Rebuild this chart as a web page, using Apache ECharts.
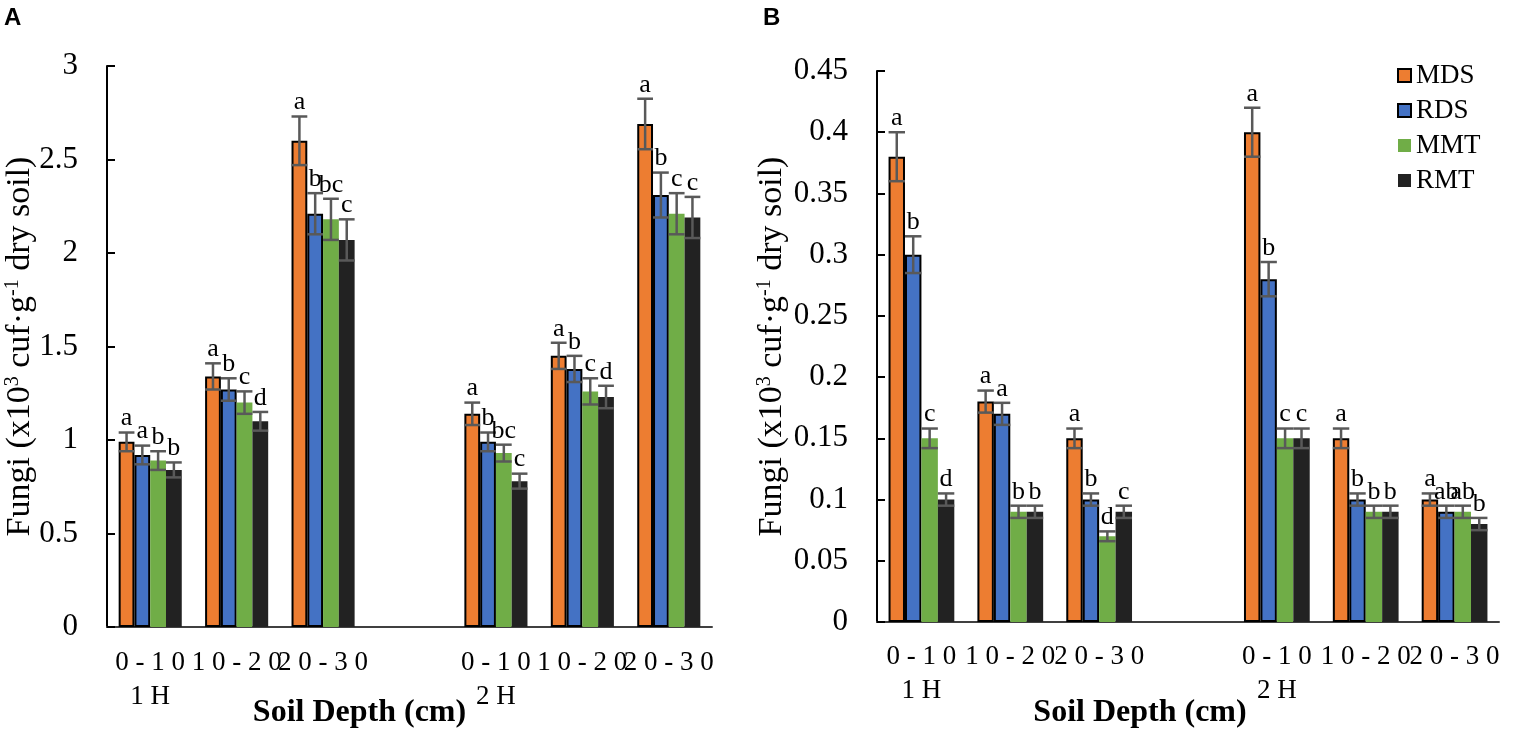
<!DOCTYPE html>
<html>
<head>
<meta charset="utf-8">
<script src="https://cdn.jsdelivr.net/npm/echarts/dist/echarts.min.js"></script>
<style>html,body{margin:0;padding:0;background:#fff}#chart{width:1525px;height:747px}</style>
</head>
<body>
<div id="chart"></div>
<script>
// soil depth categories (4th slot is the gap between harvests)
var categories = ['0-10', '10-20', '20-30', '', '0-10', '10-20', '20-30'];
var harvestLabels = ['1H', '', '', '', '2H', '', ''];
var seriesNames = ['MDS', 'RDS', 'MMT', 'RMT'];
var barColors = ['#ED7D31', '#4472C4', '#70AD47', '#222222'];

// panel A
var aMDS = [0.99, 1.34, 2.60, null, 1.14, 1.45, 2.69];
var aRDS = [0.92, 1.27, 2.21, null, 0.99, 1.38, 2.31];
var aMMT = [0.89, 1.20, 2.18, null, 0.93, 1.26, 2.21];
var aRMT = [0.84, 1.10, 2.07, null, 0.78, 1.23, 2.19];
var aErrMDS = [0.05, 0.07, 0.13, null, 0.06, 0.07, 0.135];
var aErrRDS = [0.05, 0.06, 0.11, null, 0.05, 0.07, 0.12];
var aErrMMT = [0.05, 0.06, 0.11, null, 0.045, 0.07, 0.11];
var aErrRMT = [0.04, 0.05, 0.11, null, 0.04, 0.06, 0.11];
var aLetMDS = ['a', 'a', 'a', '', 'a', 'a', 'a'];
var aLetRDS = ['a', 'b', 'b', '', 'b', 'b', 'b'];
var aLetMMT = ['b', 'c', 'bc', '', 'bc', 'c', 'c'];
var aLetRMT = ['b', 'd', 'c', '', 'c', 'd', 'c'];

// panel B
var bMDS = [0.38, 0.18, 0.15, null, 0.40, 0.15, 0.10];
var bRDS = [0.30, 0.17, 0.10, null, 0.28, 0.10, 0.09];
var bMMT = [0.15, 0.09, 0.07, null, 0.15, 0.09, 0.09];
var bRMT = [0.10, 0.09, 0.09, null, 0.15, 0.09, 0.08];
var bErrMDS = [0.02, 0.009, 0.008, null, 0.02, 0.008, 0.005];
var bErrRDS = [0.015, 0.009, 0.005, null, 0.014, 0.005, 0.005];
var bErrMMT = [0.008, 0.005, 0.004, null, 0.008, 0.005, 0.005];
var bErrRMT = [0.005, 0.005, 0.005, null, 0.008, 0.005, 0.005];
var bLetMDS = ['a', 'a', 'a', '', 'a', 'a', 'a'];
var bLetRDS = ['b', 'a', 'b', '', 'b', 'b', 'ab'];
var bLetMMT = ['c', 'b', 'd', '', 'c', 'b', 'ab'];
var bLetRMT = ['d', 'b', 'c', '', 'c', 'b', 'b'];

var serif = 'Liberation Serif';

function spaced(s) {
    return s.split('').join(' ');
}

function errorRenderer(gapRatio, letters) {
    return function (params, api) {
        var cat = api.value(0), s = api.value(1), v = api.value(2), e = api.value(3);
        var band = api.size([1, 0])[0];
        var barW = band * (1 - gapRatio) / 4;
        var x = api.coord([cat, 0])[0] + (s - 1.5) * barW;
        var top = api.coord([cat, v + e])[1];
        var bot = api.coord([cat, v - e])[1];
        var half = barW / 2;
        var st = {stroke: '#595959', lineWidth: 2.5};
        return {
            type: 'group',
            children: [
                {type: 'line', shape: {x1: x, y1: top, x2: x, y2: bot}, style: st},
                {type: 'line', shape: {x1: x - half, y1: top, x2: x + half, y2: top}, style: st},
                {type: 'line', shape: {x1: x - half, y1: bot, x2: x + half, y2: bot}, style: st},
                {type: 'text', x: x, y: top - 1, style: {
                    text: letters[params.dataIndex], fill: '#000',
                    font: '26px "' + serif + '"', textAlign: 'center', textVerticalAlign: 'bottom'
                }}
            ]
        };
    };
}

function buildPanel(idx, gap, values, errs, lets) {
    var out = [];
    var errData = [], letList = [];
    for (var s = 0; s < 4; s++) {
        out.push({
            name: seriesNames[s],
            type: 'bar',
            xAxisIndex: idx,
            yAxisIndex: idx,
            barGap: '0%',
            barCategoryGap: (gap * 100) + '%',
            data: values[s],
            itemStyle: s < 2
                ? {color: barColors[s], borderColor: '#000', borderWidth: 2}
                : {color: barColors[s], borderWidth: 0},
            emphasis: {disabled: true}
        });
        for (var c = 0; c < categories.length; c++) {
            if (values[s][c] == null) continue;
            errData.push([c, s, values[s][c], errs[s][c]]);
            letList.push(lets[s][c]);
        }
    }
    out.push({
        type: 'custom',
        xAxisIndex: idx,
        yAxisIndex: idx,
        z: 5,
        silent: true,
        encode: {x: 0, y: 2},
        renderItem: errorRenderer(gap, letList),
        data: errData
    });
    return out;
}

function xAxisFor(idx, shift, labelMargin, gapName) {
    return {
        type: 'category',
        gridIndex: idx,
        data: categories,
        axisLine: {lineStyle: {color: '#404040', width: 2}},
        axisTick: {inside: true, length: 8, lineStyle: {color: '#808080', width: 1.5}},
        axisLabel: {
            interval: 0, margin: labelMargin, color: '#000', fontFamily: serif, fontSize: 27, lineHeight: 34,
            formatter: function (v, i) {
                return spaced(v) + (harvestLabels[i] ? '\n' + spaced(harvestLabels[i]) : '');
            }
        },
        name: 'Soil Depth (cm)',
        nameLocation: 'middle',
        nameGap: gapName,
        nameMoveOverlap: false,
        nameTextStyle: {
            color: '#000', fontFamily: serif, fontWeight: 'bold', fontSize: 32,
            padding: [0, shift, 0, 0]
        }
    };
}

function yAxisFor(idx, max, step, gapName) {
    return {
        type: 'value',
        gridIndex: idx,
        min: 0, max: max, interval: step,
        splitLine: {show: false},
        axisLine: {show: true, lineStyle: {color: '#000', width: 2}},
        axisTick: {show: true, inside: true, length: 8, lineStyle: {color: '#000', width: 2}},
        axisLabel: {color: '#000', fontFamily: serif, fontSize: 31, margin: 29},
        name: 'Fungi (x10{sup|3} cuf·g{sup|-1} dry soil)',
        nameLocation: 'middle',
        nameGap: gapName,
        nameMoveOverlap: false,
        nameTextStyle: {
            color: '#000', fontFamily: serif, fontSize: 34, lineHeight: 34,
            rich: {sup: {fontFamily: serif, fontSize: 20, lineHeight: 20, verticalAlign: 'top', color: '#000'}}
        }
    };
}

var chart = echarts.init(document.getElementById('chart'));
var option = {
    animation: false,
    backgroundColor: '#fff',
    grid: [
        {left: 107, right: 813, top: 66, bottom: 120, outerBoundsMode: 'none', containLabel: false},
        {left: 877, right: 26, top: 71, bottom: 125, outerBoundsMode: 'none', containLabel: false}
    ],
    xAxis: [xAxisFor(0, 100, 19, 70), xAxisFor(1, 96, 18, 75)],
    yAxis: [yAxisFor(0, 3, 0.5, 70), yAxisFor(1, 0.45, 0.05, 88)],
    legend: {
        data: seriesNames,
        orient: 'vertical',
        left: 1392,
        top: 57,
        icon: 'rect',
        itemWidth: 13,
        itemHeight: 13,
        itemGap: 8,
        selectedMode: false,
        textStyle: {color: '#000', fontFamily: serif, fontSize: 27, lineHeight: 26}
    },
    graphic: [
        {type: 'text', left: 4, top: 6, style: {text: 'A', font: 'bold 24px "Liberation Sans"', fill: '#000'}},
        {type: 'text', left: 763, top: 6, style: {text: 'B', font: 'bold 24px "Liberation Sans"', fill: '#000'}}
    ],
    series: buildPanel(0, 0.27, [aMDS, aRDS, aMMT, aRMT], [aErrMDS, aErrRDS, aErrMMT, aErrRMT],
            [aLetMDS, aLetRDS, aLetMMT, aLetRMT])
        .concat(buildPanel(1, 0.26, [bMDS, bRDS, bMMT, bRMT], [bErrMDS, bErrRDS, bErrMMT, bErrRMT],
            [bLetMDS, bLetRDS, bLetMMT, bLetRMT]))
};
chart.setOption(option);
</script>
</body>
</html>
